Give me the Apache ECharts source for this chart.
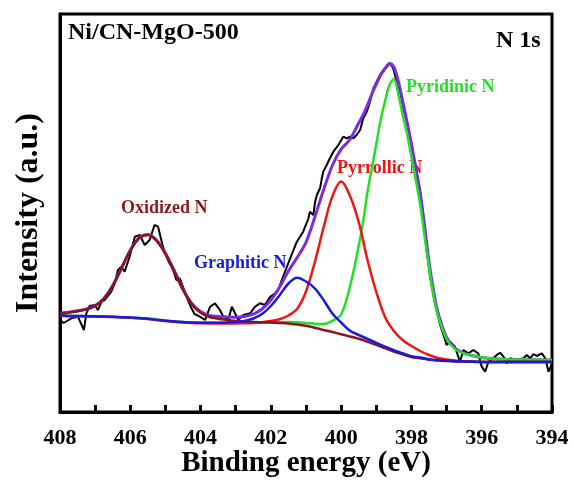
<!DOCTYPE html>
<html>
<head>
<meta charset="utf-8">
<script src="https://cdn.jsdelivr.net/npm/echarts@6/dist/echarts.min.js"></script>
<style>
html,body{margin:0;padding:0;background:#fff;}
#chart{width:573px;height:480px;}
</style>
</head>
<body>
<div id="chart"></div>
<script>
// Binding energy grid (eV) for the fitted components
const energies = [408,407.75,407.5,407.25,407,406.75,406.5,406.25,406,405.75,405.5,405.25,405,404.75,404.5,404.25,404,403.75,403.5,403.25,403,402.75,402.5,402.25,402,401.75,401.5,401.25,401,400.75,400.5,400.25,400,399.75,399.5,399.25,399,398.75,398.5,398.25,398,397.75,397.5,397.25,397,396.75,396.5,396.25,396,395.75,395.5,395.25,395,394.75,394.5,394.25,394];

// Fitted components (including background), arbitrary units
const oxidizedN = [98.5,99.4,100.8,102.6,106,113.2,126,143.6,161.3,173.7,177,171,158,140.7,122,107.5,99.2,95,93.3,92.1,91,90.5,90,89.7,89.4,89,88.5,87.5,86.2,84.3,82,80,77.8,75.5,73.2,70.2,67.1,63.8,60.5,57.7,55,53.8,52.3,51.5,51,50.6,50.4,50.2,50,50,50,50,50,50,50,50,50];
const graphiticN = [96.7,96.1,96.0,95.8,95.7,95.4,95.2,94.8,94.5,93.9,93.2,92.2,91.3,90.5,89.9,89.4,89.2,89.2,89.3,89.6,90,91,93.5,98,106,116.8,128.5,134.2,130.5,123.7,112,98.6,89.5,81.3,77,73,69.2,65.4,61.8,58.7,55.8,54.4,52.8,51.9,51.3,50.8,50.6,50.3,50.1,50,50,50,50,50,50,50,50];
const pyrrolicN = [96.5,95.9,95.8,95.6,95.5,95.2,95,94.6,94.3,93.7,93,92,91,90.2,89.5,89,88.7,88.5,88.6,88.5,88.5,88.7,89,89.8,91,92.8,96.5,103.2,120.5,149.7,184.5,215.6,230.5,216.3,190,152,120,95,81,72,66,61,57,54,52.5,51.5,50.8,50.4,50,50,50,50,50,50,50,50,50];

// Pyridinic N and envelope, sampled more finely around the main peak
const pyridinicE = [408,407.75,407.5,407.25,407,406.75,406.5,406.25,406,405.75,405.5,405.25,405,404.75,404.5,404.25,404,403.75,403.5,403.25,403,402.75,402.5,402.25,402,401.75,401.5,401.25,401,400.75,400.5,400.25,400,399.75,399.5,399.375,399.25,399.125,399,398.875,398.75,398.625,398.5,398.375,398.25,398.125,398,397.875,397.75,397.625,397.5,397.375,397.25,397,396.75,396.5,396.25,396,395.75,395.5,395.25,395,394.75,394.5,394.25,394];
const pyridinicN = [96.7,96.1,96,95.8,95.7,95.4,95.2,94.9,94.6,94,93.4,92.5,91.5,90.8,90.1,89.7,89.5,89.4,89.3,89.2,89.2,89.3,89.4,89.5,89.5,89.8,90,89.7,89,88.2,88,91.1,97.5,125.3,166,190,220,244,268,292,311,327,333,318,297,278,255,232,207,176,145,117,97,73,62.6,58.4,56.2,54.5,53.5,53,52.7,52.5,52.4,52.2,52.1,52];
const envelopeE = pyridinicE;
const envelope = [98.9,99.8,101.2,103,106.4,113.6,126.4,144.1,161.8,174.2,177.6,171.7,158.8,141.6,123,108.6,100.5,96.6,95.6,95.1,94.7,95.5,97.9,103,111.9,125,141,154.5,169.7,194.8,222,246.5,262.8,272.5,289,297,307,318,328,337,343.5,348.5,345,331,311,290,268,244,219,186,150,122,100,74.5,63.5,58.9,56.2,54.5,53.5,53,52.7,52.5,52.4,52.2,52.1,52];

// Raw measured spectrum
const rawE = [408.0,407.9,407.8,407.68,407.49,407.32,407.25,407.16,407.01,406.92,406.82,406.73,406.54,406.45,406.35,406.26,406.16,406.02,405.87,405.73,405.59,405.45,405.31,405.21,405.07,404.93,404.78,404.69,404.59,404.45,404.36,404.26,404.17,404.02,403.87,403.73,403.59,403.45,403.35,403.21,403.11,403.02,402.93,402.78,402.59,402.45,402.31,402.17,402.02,401.88,401.79,401.69,401.65,401.45,401.26,401.08,400.93,400.89,400.79,400.74,400.69,400.6,400.55,400.51,400.41,400.32,400.22,400.08,399.94,399.84,399.75,399.65,399.56,399.46,399.37,399.27,399.18,399.08,398.99,398.89,398.8,398.7,398.61,398.52,398.42,398.32,398.23,398.13,398.04,397.9,397.76,397.66,397.57,397.47,397.33,397.19,397.04,397.0,396.9,396.76,396.62,396.52,396.38,396.24,396.1,396.0,395.9,395.81,395.67,395.57,395.48,395.38,395.29,395.19,395.0,394.81,394.72,394.62,394.53,394.43,394.29,394.19,394.1,394.0];
const rawI = [92,89,91,93.7,95.3,82,98.7,106,107,102,110.3,112,120.3,128,142,145.3,140.3,155.3,175.3,177,167,172,187,185.3,165.3,152,142,132,133.7,120.3,112,103.7,98,95.3,92,105.3,108.7,102,95.3,92,105.3,98.7,92,97,98.7,105.3,108.7,107,115.3,118.7,122,132,133.7,153.7,170.3,180.3,193.7,200.3,197,210.3,217,223.7,233.7,240.3,247,253.7,260.3,267,275.3,273.7,275.3,273.7,277,282,293.7,300.3,310.3,323.7,330.3,337,342,345.3,348.7,343.7,330.3,320.3,303.7,290.3,275.3,248.7,222,195.3,162,135.3,108.7,88,72,67,70.3,65.3,50.3,62,58.7,62,58.7,45.3,40.3,50.3,53.7,57,59.3,55.3,48.7,53.7,52,53.7,57,53.7,58,56,58.7,53.7,40.3,48];

const xTicks = {min: 394, max: 408, step: 2};

const pair = (xs, ys) => xs.map((x, i) => [x, ys[i]]);
const serif = '"Liberation Serif", "Times New Roman", serif';

const chart = echarts.init(document.getElementById('chart'), null, {renderer: 'canvas'});
const line = (name, data, color, width, z, smooth) => ({
  name, type: 'line', data, showSymbol: false, symbol: 'none', z,
  smooth: smooth, lineStyle: {color, width}, animation: false
});

chart.setOption({
  animation: false,
  backgroundColor: '#fff',
  grid: {left: 60, right: 21, top: 14, bottom: 68, containLabel: false, outerBoundsMode: 'none',
         show: true, borderColor: '#000', borderWidth: 3, backgroundColor: 'transparent'},
  xAxis: [{
    type: 'value', min: xTicks.min, max: xTicks.max, interval: xTicks.step, inverse: true,
    axisLine: {show: true, onZero: false, lineStyle: {color: '#000', width: 3}},
    axisTick: {show: true, inside: true, length: 7, lineStyle: {color: '#000', width: 2.5}},
    minorTick: {show: true, splitNumber: 2, length: 7, lineStyle: {color: '#000', width: 2.5}},
    splitLine: {show: false},
    axisLabel: {color: '#000', fontFamily: serif, fontWeight: 'bold', fontSize: 22, margin: 15},
    name: 'Binding energy (eV)', nameLocation: 'middle', nameGap: 37, nameMoveOverlap: false,
    nameTextStyle: {color: '#000', fontFamily: serif, fontWeight: 'bold', fontSize: 29}
  }, {
    type: 'value', min: xTicks.min, max: xTicks.max, interval: xTicks.step, inverse: true,
    position: 'bottom', offset: 0, z: 10,
    axisLine: {show: false}, axisLabel: {show: false}, splitLine: {show: false},
    axisTick: {show: true, inside: false, length: -7, lineStyle: {color: '#000', width: 2.5}},
    minorTick: {show: true, splitNumber: 2, length: -7, lineStyle: {color: '#000', width: 2.5}}
  }],
  yAxis: {
    type: 'value', min: 0, max: 398,
    axisLine: {show: true, lineStyle: {color: '#000', width: 3}},
    axisTick: {show: false}, axisLabel: {show: false}, splitLine: {show: false},
    name: 'Intensity (a.u.)', nameLocation: 'middle', nameGap: 15, nameRotate: 90, nameMoveOverlap: false,
    nameTextStyle: {color: '#000', fontFamily: serif, fontWeight: 'bold', fontSize: 32}
  },
  series: [
    line('Raw', pair(rawE, rawI), '#000000', 2, 1, false),
    line('Envelope', pair(envelopeE, envelope), '#7b2be2', 3, 2, 0.35),
    line('Pyridinic N', pair(pyridinicE, pyridinicN), '#22e022', 2.5, 3, 0.35),
    line('Pyrrolic N', pair(energies, pyrrolicN), '#ee1515', 2.5, 4, 0.35),
    line('Oxidized N', pair(energies, oxidizedN), '#8b1414', 2.5, 5, 0.35),
    line('Graphitic N', pair(energies, graphiticN), '#1a1adf', 2.5, 6, 0.35)
  ],
  graphic: [
    {type: 'text', left: 68, top: 21, style: {text: 'Ni/CN-MgO-500', fill: '#000', font: 'bold 24px ' + serif}},
    {type: 'text', left: 496, top: 29, style: {text: 'N 1s', fill: '#000', font: 'bold 24px ' + serif}},
    {type: 'text', left: 406, top: 78, style: {text: 'Pyridinic N', fill: '#22e022', font: 'bold 18px ' + serif}},
    {type: 'text', left: 337, top: 159, style: {text: 'Pyrrollic N', fill: '#ee1515', font: 'bold 18px ' + serif}},
    {type: 'text', left: 121, top: 199, style: {text: 'Oxidized N', fill: '#8b1a1a', font: 'bold 18px ' + serif}},
    {type: 'text', left: 194, top: 254, style: {text: 'Graphitic N', fill: '#1a1adf', font: 'bold 18px ' + serif}}
  ]
});
</script>
</body>
</html>
